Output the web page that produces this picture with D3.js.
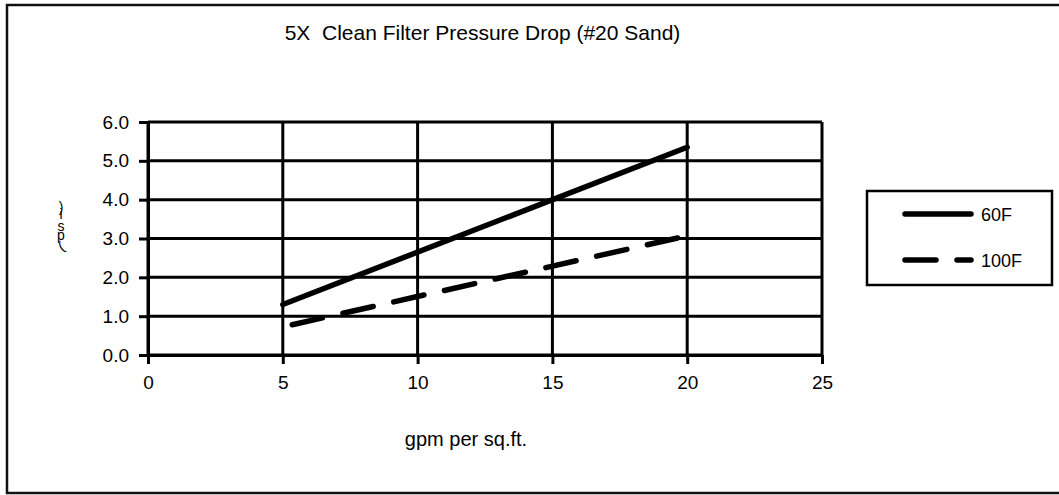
<!DOCTYPE html>
<html>
<head>
<meta charset="utf-8">
<script src="https://cdn.jsdelivr.net/npm/d3@7"></script>
<style>
  html, body { margin: 0; padding: 0; background: #fff; }
  svg { display: block; font-family: "Liberation Sans", Arial, sans-serif; }
</style>
</head>
<body>
<svg id="chart" width="1059" height="495"></svg>
<script>
const titleText = "5X  Clean Filter Pressure Drop (#20 Sand)";
const xAxisTitle = "gpm per sq.ft.";
const yAxisTitle = "(psi)";
const xTicks = [0, 5, 10, 15, 20, 25];
const yTicks = [0, 1, 2, 3, 4, 5, 6];
const seriesNames = ["60F", "100F"];
const gpm60 = [5, 20];
const psi60 = [1.3, 5.35];
const gpm100 = [5.35, 20];
const psi100 = [0.78, 3.07];

const svg = d3.select("#chart");

// outer frame
svg.append("rect").attr("x", 7).attr("y", 5).attr("width", 1060).attr("height", 488)
  .attr("fill", "#fff").attr("stroke", "#111").attr("stroke-width", 2.5);

const x = d3.scaleLinear().domain([0, 25]).range([148, 822]);
const y = d3.scaleLinear().domain([0, 6]).range([355, 122]);

// grid
const g = svg.append("g");
g.selectAll("line.h").data(yTicks).join("line")
  .attr("x1", x(0)).attr("x2", x(25))
  .attr("y1", d => y(d)).attr("y2", d => y(d))
  .attr("stroke", "#000").attr("stroke-width", 3);
g.selectAll("line.v").data(xTicks).join("line")
  .attr("y1", y(0)).attr("y2", y(6))
  .attr("x1", d => x(d)).attr("x2", d => x(d))
  .attr("stroke", "#000").attr("stroke-width", 3);

// axes
const ax = svg.append("g").attr("transform", `translate(0,${y(0)})`)
  .call(d3.axisBottom(x).tickValues(xTicks).tickSize(9).tickSizeOuter(0).tickPadding(11.5).tickFormat(d3.format("d")));
const ay = svg.append("g").attr("transform", `translate(${x(0)},0)`)
  .call(d3.axisLeft(y).tickValues(yTicks).tickSize(9).tickSizeOuter(0).tickPadding(10).tickFormat(d3.format(".1f")));
[ax, ay].forEach(a => {
  a.select(".domain").attr("stroke", "#000").attr("stroke-width", 3);
  a.selectAll(".tick line").attr("stroke", "#000").attr("stroke-width", 3);
  a.selectAll(".tick text").attr("font-size", 19).attr("fill", "#000")
    .attr("font-family", "Liberation Sans, Arial, sans-serif");
});

// series
const line = d3.line().x(d => x(d[0])).y(d => y(d[1]));
const d60 = gpm60.map((v, i) => [v, psi60[i]]);
const d100 = gpm100.map((v, i) => [v, psi100[i]]);
svg.append("path").datum(d60).attr("d", line)
  .attr("fill", "none").attr("stroke", "#000").attr("stroke-width", 5.5).attr("stroke-linecap", "round");
svg.append("path").datum(d100).attr("d", line)
  .attr("fill", "none").attr("stroke", "#000").attr("stroke-width", 5.5)
  .attr("stroke-linecap", "round").attr("stroke-dasharray", "31,21");

// title
svg.append("text").attr("x", 482.5).attr("y", 40).attr("text-anchor", "middle")
  .attr("font-size", 21).attr("fill", "#000").attr("xml:space", "preserve")
  .style("white-space", "pre").text(titleText);

// x axis title
svg.append("text").attr("x", 466).attr("y", 446).attr("text-anchor", "middle")
  .attr("font-size", 20).attr("fill", "#000").style("white-space", "pre").text(xAxisTitle);

// y axis title: stacked characters, bottom to top
const yChars = yAxisTitle.split("");
const yPos = [251, 240, 231, 219, 212];
const yRot = [-30, 0, 0, 0, 0];
const yg = svg.append("g");
yChars.forEach((c, i) => {
  yg.append("text").attr("x", 61).attr("y", yPos[i]).attr("text-anchor", "middle")
    .attr("font-size", 14).attr("fill", "#000")
    .attr("transform", `rotate(${yRot[i]},61,${yPos[i] - 5})`).text(c);
});

// legend
svg.append("rect").attr("x", 867).attr("y", 191).attr("width", 185).attr("height", 94)
  .attr("fill", "#fff").attr("stroke", "#000").attr("stroke-width", 2.5);
const legY = [214, 260];
const legDash = [null, "31,21"];
seriesNames.forEach((n, i) => {
  svg.append("line").attr("x1", 905).attr("x2", 971).attr("y1", legY[i]).attr("y2", legY[i])
    .attr("stroke", "#000").attr("stroke-width", 5.5).attr("stroke-linecap", "round")
    .attr("stroke-dasharray", legDash[i]);
  svg.append("text").attr("x", 981).attr("y", legY[i] + 6.5).attr("font-size", 18)
    .attr("fill", "#000").text(n);
});
</script>
</body>
</html>
